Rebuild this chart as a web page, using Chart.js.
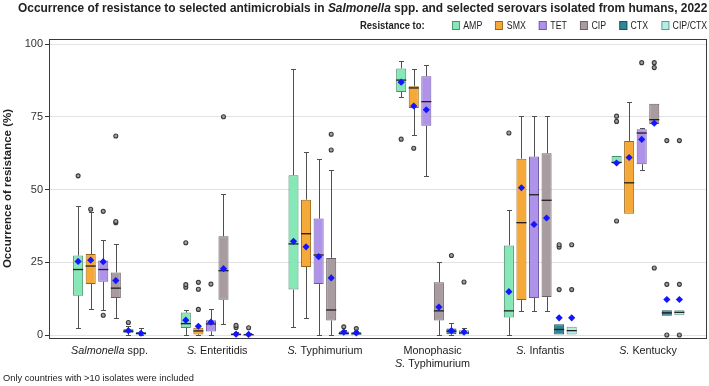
<!DOCTYPE html>
<html>
<head>
<meta charset="utf-8">
<title>Occurrence of resistance - Salmonella 2022</title>
<script src="https://cdn.jsdelivr.net/npm/chart.js@4.4.1/dist/chart.umd.min.js"></script>
<style>
  html, body { margin: 0; padding: 0; background: #fff; }
  #wrap { position: relative; width: 709px; height: 386px; font-family: "Liberation Sans", Arial, sans-serif; color: #222; }
  #chart { position: absolute; left: 0; top: 0; }
  #title { position: absolute; right: 2px; top: 1px; font-weight: bold; font-size: 12px; white-space: nowrap; transform-origin: right center; }
  #legend { position: absolute; right: 2px; top: 19px; display: flex; align-items: center; font-size: 10px; white-space: nowrap; transform-origin: right center; }
  #legend .lead { font-weight: bold; font-size: 10.8px; margin-right: 16px; }
  #legend .item { display: flex; align-items: center; margin-left: 15px; }
  #legend .item:first-of-type { margin-left: 0; }
  #legend .sw { width: 7px; height: 7px; border: 1px solid #555; margin-right: 4px; }
  #note { position: absolute; left: 3px; top: 373px; font-size: 9.3px; white-space: nowrap; }
</style>
</head>
<body>
<div id="wrap">
  <canvas id="chart" width="709" height="386"></canvas>
  <div id="title">Occurrence of resistance to selected antimicrobials in <i>Salmonella</i> spp. and selected serovars isolated from humans, 2022</div>
  <div id="legend"><span class="lead">Resistance to:</span></div>
  <div id="note">Only countries with &gt;10 isolates were included</div>
</div>
<script>
// categories (one line per entry; "Salmonella" and "S." are set in italics)
const categories = [
  ['Salmonella spp.'],
  ['S. Enteritidis'],
  ['S. Typhimurium'],
  ['Monophasic', 'S. Typhimurium'],
  ['S. Infantis'],
  ['S. Kentucky']
];
const antimicrobials = ['AMP', 'SMX', 'TET', 'CIP', 'CTX', 'CIP/CTX'];
const yTicks = [0, 25, 50, 75, 100];

// per category: [min, q1, median, q3, max, mean]  (% resistance)
const AMP = [
  [2.5, 13.5, 22.5, 27.3, 44.4, 25.3],
  [0, 2.4, 3.9, 7.7, 8.5, 5.1],
  [2.9, 15.6, 31.3, 54.9, 91.3, 32.2],
  [81.9, 83.5, 87.6, 91.6, 94.1, 86.9],
  [0, 6, 8.3, 30.8, 42.9, 14.9],
  [59, 59, 59.3, 61.5, 61.5, 59.1]
];
const SMX = [
  [9, 17.5, 23.7, 27.8, 42.1, 25.7],
  [0, 0.2, 1.4, 2.5, 3.4, 3],
  [5.8, 23.4, 34.8, 46.5, 62.9, 30.3],
  [68.8, 78, 84.9, 85.5, 91.3, 78.7],
  [8.3, 12, 38.6, 60.6, 75.1, 50.6],
  [41.7, 41.7, 52.3, 66.7, 80.2, 61]
];
const TET = [
  [8.6, 18.3, 22.5, 25.6, 32.6, 25.2],
  [0, 1.2, 3.8, 5.1, 9.1, 4.4],
  [0, 17.5, 27.5, 40, 60.6, 26.9],
  [54.6, 71.9, 80.2, 88.9, 92.7, 77.4],
  [8.3, 12.7, 48.2, 61.3, 75.1, 38],
  [56.7, 58.7, 69.4, 70.7, 71, 67.2]
];
const CIP = [
  [5.8, 12.7, 16.1, 21.5, 31.3, 18.7],
  [3.7, 12.1, 22.1, 33.9, 48.3, 22.8],
  [0, 5, 8.6, 26.5, 56.8, 19.6],
  [0, 5, 8.3, 18.1, 25, 9.6],
  [8.3, 13.1, 46.3, 62.5, 75.1, 40.2],
  [72.5, 72.5, 74, 79.5, 79.5, 72.8]
];
const CTX = [
  [0, 0.8, 1.3, 2, 3, 1.5],
  [0, 0, 0.2, 0.5, 1, 0.3],
  [0, 0, 0.5, 1.2, 1.8, 1],
  [0, 0.3, 1.3, 2.2, 4, 1.5],
  [0, 0, 1.9, 3.7, 3.7, 5.9],
  [6.6, 6.6, 7.6, 8.5, 8.5, 12.2]
];
const CIP_CTX = [
  [0, 0.2, 0.5, 1, 2.5, 0.6],
  [0, 0, 0.1, 0.4, 0.8, 0.2],
  [0, 0, 0.4, 1, 1.5, 0.7],
  [0, 0, 0.7, 1.6, 2.5, 1],
  [0, 0, 1.5, 2.8, 2.8, 5.9],
  [6.8, 6.8, 7.8, 8.5, 8.5, 12.2]
];

// outliers per category
const AMP_out = [[54.7], [16.4, 17.3, 31.7], [], [67.3], [69.4], [75.2, 73.4, 39.2]];
const SMX_out = [[43.2], [8.8, 15.7, 18.1], [], [64.2], [], []];
const TET_out = [[6.8, 42.5], [17.5], [], [], [], [93.6]];
const CIP_out = [[38.6, 39, 68.4], [75], [63.6, 69], [], [], [93.6, 91.9, 23]];
const CTX_out = [[4.3], [2.6, 3.3], [2.8], [27.3], [15.6, 30.2, 31], [0, 17.4, 66.8]];
const CIP_CTX_out = [[], [2.5], [2.2], [18.2], [15.6, 31], [0, 17.4, 66.8]];

const summaries = [AMP, SMX, TET, CIP, CTX, CIP_CTX];
const outliers = [AMP_out, SMX_out, TET_out, CIP_out, CTX_out, CIP_CTX_out];

const fills = ['#86e8b6', '#f5a938', '#ae93e9', '#a99ca1', '#2e8797', '#b6ede3'];
const borders = ['#4b8d6c', '#9a6416', '#6e58a6', '#6a5f63', '#1b5059', '#5f968d'];

// html legend
const legendEl = document.getElementById('legend');
antimicrobials.forEach((name, k) => {
  const item = document.createElement('span');
  item.className = 'item';
  item.innerHTML = `<span class="sw" style="background:${fills[k]};border-color:${borders[k]}"></span>${name}`;
  legendEl.appendChild(item);
});

// squeeze title / legend to the widths they take in the original
function fitWidth(el, w) {
  el.style.transform = `scaleX(${w / el.offsetWidth})`;
}
fitWidth(document.getElementById('title'), 689);
fitWidth(legendEl, 347);

function crisp(v) { return Math.round(v) + 0.5; }

const boxParts = {
  id: 'boxParts',
  afterDatasetsDraw(chart) {
    const { ctx } = chart;
    const y = chart.scales.y;
    ctx.save();
    summaries.forEach((rows, k) => {
      const meta = chart.getDatasetMeta(k);
      meta.data.forEach((bar, i) => {
        const [mn, q1, med, q3, mx, mean] = rows[i];
        const x = crisp(bar.x);
        const w = bar.width;
        const cap = w * 0.25;
        ctx.strokeStyle = '#505050';
        ctx.lineWidth = 1;
        const whisker = (from, to) => {
          if (to === from) return;
          ctx.beginPath();
          ctx.moveTo(x, y.getPixelForValue(from));
          ctx.lineTo(x, crisp(y.getPixelForValue(to)));
          ctx.moveTo(x - cap, crisp(y.getPixelForValue(to)));
          ctx.lineTo(x + cap, crisp(y.getPixelForValue(to)));
          ctx.stroke();
        };
        whisker(q3, mx);
        whisker(q1, mn);
        // median
        ctx.strokeStyle = '#1e1e1e';
        ctx.lineWidth = 1.3;
        const ym = y.getPixelForValue(med);
        ctx.beginPath();
        ctx.moveTo(bar.x - w / 2, ym);
        ctx.lineTo(bar.x + w / 2, ym);
        ctx.stroke();
        // outliers
        outliers[k][i].forEach((v) => {
          ctx.beginPath();
          ctx.arc(bar.x, y.getPixelForValue(v), 2, 0, Math.PI * 2);
          ctx.fillStyle = '#a0a0a0';
          ctx.fill();
          ctx.strokeStyle = '#3a3a3a';
          ctx.lineWidth = 1.1;
          ctx.stroke();
        });
        // mean (blue diamond)
        const yv = y.getPixelForValue(mean);
        const r = 3.6;
        ctx.beginPath();
        ctx.moveTo(bar.x, yv - r);
        ctx.lineTo(bar.x + r, yv);
        ctx.lineTo(bar.x, yv + r);
        ctx.lineTo(bar.x - r, yv);
        ctx.closePath();
        ctx.fillStyle = '#1414ff';
        ctx.fill();
      });
    });
    // frame round the plot
    const a = chart.chartArea;
    ctx.strokeStyle = '#3a3a3a';
    ctx.lineWidth = 1;
    ctx.strokeRect(crisp(a.left), crisp(a.top), Math.round(a.right - a.left) - 1, Math.round(a.bottom - a.top));
    ctx.restore();
  },
  afterDraw(chart) {
    const { ctx } = chart;
    const x = chart.scales.x;
    const base = chart.chartArea.bottom;
    ctx.save();
    ctx.fillStyle = '#222';
    ctx.textBaseline = 'middle';
    categories.forEach((lines, i) => {
      const cx = x.getPixelForValue(i);
      lines.forEach((line, li) => {
        const parts = line.split(' ').map((word) => ({
          text: word,
          italic: word === 'Salmonella' || word === 'S.'
        }));
        const fontFor = (p) => `${p.italic ? 'italic ' : ''}10.8px "Liberation Sans", Arial, sans-serif`;
        ctx.font = '10.8px "Liberation Sans", Arial, sans-serif';
        const space = ctx.measureText(' ').width;
        let total = 0;
        parts.forEach((p, pi) => {
          ctx.font = fontFor(p);
          p.w = ctx.measureText(p.text).width;
          total += p.w + (pi ? space : 0);
        });
        let px = cx - total / 2;
        const py = base + 13 + li * 13;
        parts.forEach((p) => {
          ctx.font = fontFor(p);
          ctx.textAlign = 'left';
          ctx.fillText(p.text, px, py);
          px += p.w + space;
        });
      });
    });
    ctx.restore();
  }
};

new Chart(document.getElementById('chart'), {
  type: 'bar',
  data: {
    datasets: antimicrobials.map((name, k) => ({
      label: name,
      data: summaries[k].map((s, i) => ({ x: i, y: [s[1], s[3]] })),
      backgroundColor: fills[k],
      borderColor: borders[k],
      borderWidth: 1,
      borderSkipped: false,
      barPercentage: 0.8,
      categoryPercentage: 0.7
    }))
  },
  options: {
    responsive: false,
    animation: false,
    layout: { padding: { left: 0, top: 39, right: 2, bottom: 40 } },
    plugins: {
      legend: { display: false },
      tooltip: { enabled: false }
    },
    scales: {
      x: {
        type: 'linear',
        offset: false,
        min: -0.562,
        max: 5.548,
        afterBuildTicks: (axis) => { axis.ticks = categories.map((c, i) => ({ value: i })); },
        ticks: { display: false },
        grid: { display: false, offset: false },
        border: { display: false }
      },
      y: {
        min: -1.03,
        max: 101.72,
        afterBuildTicks: (axis) => { axis.ticks = yTicks.map((v) => ({ value: v })); },
        afterFit: (axis) => { axis.width = 49; },
        ticks: {
          color: '#333',
          padding: 2,
          font: { family: '"Liberation Sans", Arial, sans-serif', size: 11 }
        },
        grid: { color: '#e2e2e2', tickLength: 4, tickColor: '#333' },
        border: { display: false },
        title: {
          display: true,
          text: 'Occurrence of resistance (%)',
          color: '#222',
          padding: { top: 1, bottom: 0 },
          font: { family: '"Liberation Sans", Arial, sans-serif', size: 11.5, weight: 'bold' }
        }
      }
    }
  },
  plugins: [boxParts]
});
</script>
</body>
</html>
